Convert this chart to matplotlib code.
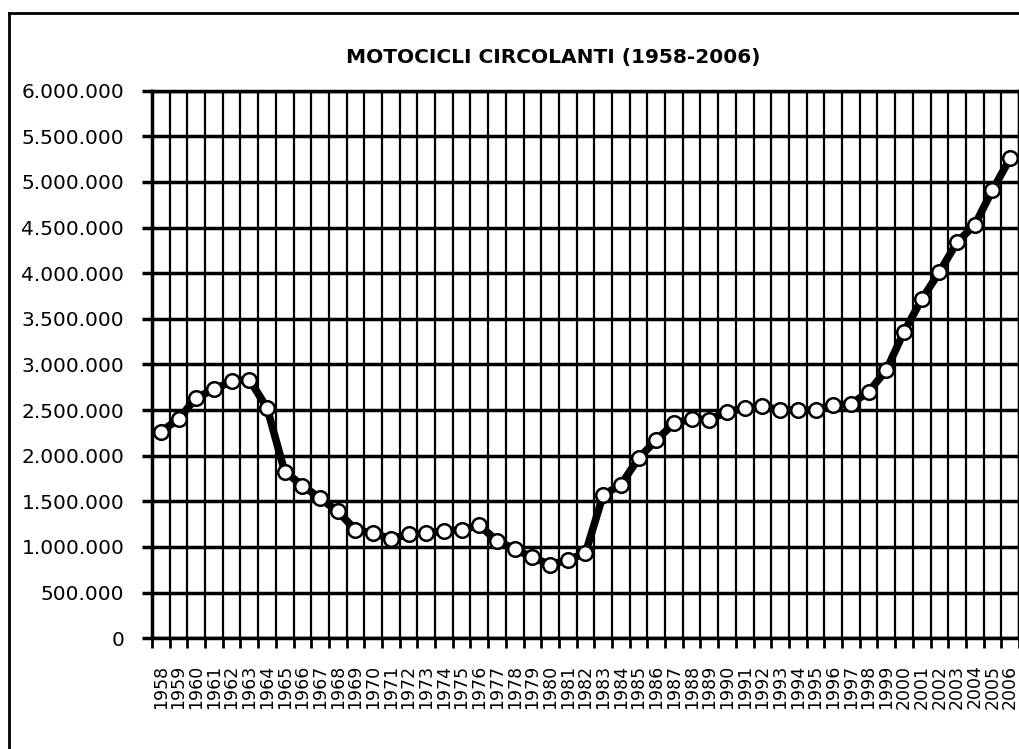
import matplotlib
matplotlib.use("Agg")
import matplotlib.pyplot as plt
from matplotlib.lines import Line2D
from matplotlib.ticker import FuncFormatter, FixedLocator

# Motocicli circolanti per anno
years = list(range(1958, 2007))
motorcycles = [
    2262000, 2401000, 2634000, 2725000, 2816000, 2834000, 2525000, 1825000,
    1672000, 1533000, 1388000, 1188000, 1151000, 1089000, 1137000, 1151000,
    1173000, 1188000, 1235000, 1068000, 976000, 885000, 805000, 856000,
    932000, 1570000, 1680000, 1971000, 2171000, 2353000, 2401000, 2395000,
    2481000, 2517000, 2543000, 2499000, 2499000, 2499000, 2554000, 2565000,
    2699000, 2937000, 3355000, 3713000, 4011000, 4339000, 4528000, 4910000,
    5257000,
]
y_ticks = list(range(0, 6000001, 500000))
title = "MOTOCICLI CIRCOLANTI (1958-2006)"

fig = plt.figure(figsize=(10.2, 7.49), dpi=100)
ax = fig.add_axes([0.149, 0.148, 0.850, 0.731])

x = list(range(len(years)))
ax.plot(x, motorcycles, color="black", linewidth=5.5, zorder=3,
        marker="o", markersize=10.5, markerfacecolor="white",
        markeredgecolor="black", markeredgewidth=1.8, clip_on=False)

ax.set_xlim(-0.5, len(years) - 0.5)
ax.set_ylim(0, 6000000)

# category labels at centres, grid/ticks at category borders
ax.set_xticks(x)
ax.set_xticklabels([str(y) for y in years], rotation=90, fontsize=12.5)
ax.xaxis.set_minor_locator(FixedLocator([k - 0.5 for k in range(len(years) + 1)]))
ax.tick_params(axis="x", which="major", length=0, pad=19)
ax.tick_params(axis="x", which="minor", length=7, width=2, color="black")
ax.grid(which="minor", axis="x", color="black", linewidth=1.6)

ax.set_yticks(y_ticks)
ax.yaxis.set_major_formatter(FuncFormatter(lambda v, p: f"{int(v):,}".replace(",", ".")))
ax.tick_params(axis="y", length=7, width=2.5, pad=13, labelsize=14.5)
ax.grid(which="major", axis="y", color="black", linewidth=2.5)
ax.set_axisbelow(True)

for s in ax.spines.values():
    s.set_linewidth(2.5)
    s.set_color("black")

fig.text(0.542, 0.923, title, ha="center", va="center",
         fontsize=14.5, fontweight="bold")

# outer frame (cut by the image edges)
fig.add_artist(Line2D([0.0088, 0.0088], [0, 0.9826], color="black",
                      linewidth=2, transform=fig.transFigure))
fig.add_artist(Line2D([0.0088, 1.0], [0.9826, 0.9826], color="black",
                      linewidth=2, transform=fig.transFigure))

fig.savefig("out.png", dpi=100)
